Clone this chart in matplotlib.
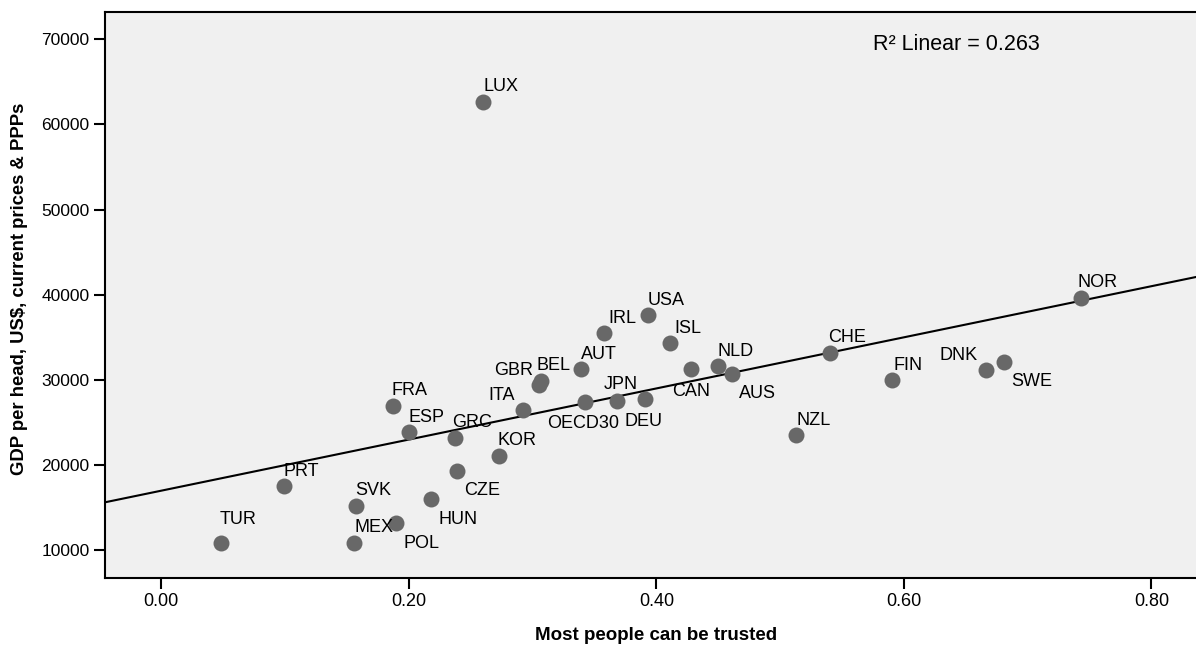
import matplotlib
matplotlib.use("Agg")
import matplotlib.pyplot as plt

plt.rcParams['font.family'] = ['Liberation Sans', 'DejaVu Sans']

# confianza (x) vs PIB per cápita (y)
paises = ['TUR', 'PRT', 'SVK', 'MEX', 'POL', 'HUN', 'FRA', 'ESP', 'GRC', 'CZE',
          'KOR', 'LUX', 'ITA', 'GBR', 'BEL', 'AUT', 'OECD30', 'IRL', 'JPN', 'DEU',
          'USA', 'ISL', 'CAN', 'NLD', 'AUS', 'NZL', 'CHE', 'FIN', 'DNK', 'SWE', 'NOR']
confianza = [0.048, 0.099, 0.157, 0.156, 0.190, 0.218, 0.187, 0.200, 0.237, 0.239,
             0.273, 0.260, 0.292, 0.305, 0.307, 0.339, 0.342, 0.358, 0.368, 0.391,
             0.393, 0.411, 0.428, 0.450, 0.461, 0.513, 0.540, 0.590, 0.666, 0.681, 0.743]
pib = [10860, 17520, 15210, 10860, 13140, 15990, 26960, 23830, 23130, 19320,
       21080, 62640, 26420, 29390, 29890, 31270, 27430, 35460, 27470, 27710,
       37580, 34290, 31270, 31620, 30680, 23480, 33180, 29980, 31150, 32060, 39650]

# recta de ajuste lineal
intercepto = 16970
pendiente = 30030
r2 = 0.263

# posición de cada etiqueta respecto a su punto (px: izquierda, centro vertical hacia abajo)
desplazamientos = {
    'TUR': (-1, -25), 'PRT': (0, -16.5), 'SVK': (0, -17), 'MEX': (0, -17),
    'POL': (7, 18.4), 'HUN': (7, 18.3), 'FRA': (-1, -17), 'ESP': (0, -16.5),
    'GRC': (-3, -17.6), 'CZE': (7, 18.3), 'KOR': (-2, -16.7), 'LUX': (0, -17),
    'ITA': (-34, -17), 'GBR': (-45, -16.7), 'BEL': (-5, -16.7), 'AUT': (0, -16.7),
    'OECD30': (-37, 19.6), 'IRL': (4, -17), 'JPN': (-13, -18.6), 'DEU': (-21, 20),
    'USA': (0, -17), 'ISL': (4, -16.3), 'CAN': (-19, 20.3), 'NLD': (-1, -16.7),
    'AUS': (7, 17.3), 'NZL': (0, -16.7), 'CHE': (-2, -17), 'FIN': (2, -16.7),
    'DNK': (-46, -16.7), 'SWE': (7, 17.7), 'NOR': (-3, -17),
}

fig = plt.figure(figsize=(11.96, 6.47), dpi=100)
ax = fig.add_axes([105 / 1196, 1 - 577.7 / 647, 1 - 105 / 1196, (577.7 - 12) / 647])
ax.set_facecolor('#f0f0f0')

ax.set_xlim(-0.0455, 0.836)
ax.set_ylim(6745, 73210)

xs = [ax.get_xlim()[0], ax.get_xlim()[1]]
ax.plot(xs, [intercepto + pendiente * v for v in xs], color='black', lw=1.5, zorder=2)

ax.plot(confianza, pib, 'o', color='#686868', markersize=11.5, markeredgewidth=0, zorder=3)

for nombre, x, y in zip(paises, confianza, pib):
    dx, dy = desplazamientos[nombre]
    ax.annotate(nombre, (x, y), xytext=(dx, -(dy + 6.3)), textcoords='offset pixels',
                ha='left', va='baseline', fontsize=13, color='black', zorder=4)

ax.text((873 - 105) / 1091, (577.7 - 45) / 565.7, 'R\u00b2 Linear = ' + str(r2),
        transform=ax.transAxes, ha='left', va='center', fontsize=15.5)

ax.set_xticks([0.0, 0.2, 0.4, 0.6, 0.8])
ax.set_xticklabels(['0.00', '0.20', '0.40', '0.60', '0.80'], fontsize=13)
ax.set_yticks([10000, 20000, 30000, 40000, 50000, 60000, 70000])
ax.set_yticklabels(['10000', '20000', '30000', '40000', '50000', '60000', '70000'], fontsize=12.5)
ax.tick_params(length=8, width=1.5, pad=3)

for lado in ['left', 'bottom', 'top']:
    ax.spines[lado].set_linewidth(1.5)
ax.spines['right'].set_visible(False)

fig.text(656 / 1196, 1 - 636 / 647, 'Most people can be trusted', ha='center', va='center',
         fontsize=13.5, fontweight='bold')
fig.text(20 / 1196, 1 - 289 / 647, 'GDP per head, US$, current prices & PPPs', ha='center',
         va='center', rotation=90, fontsize=13.3, fontweight='bold')

fig.savefig('out.png', dpi=100)
